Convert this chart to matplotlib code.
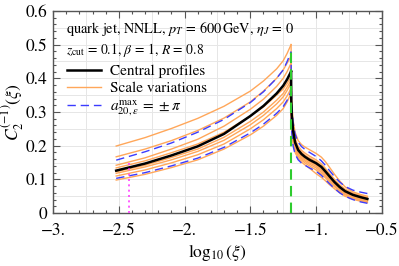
import matplotlib
matplotlib.use("Agg")
import matplotlib.pyplot as plt
import numpy as np
from matplotlib.ticker import MultipleLocator, FixedLocator, FixedFormatter
from matplotlib.lines import Line2D

plt.rcParams['font.family'] = ['STIXGeneral', 'DejaVu Serif']
plt.rcParams['mathtext.fontset'] = 'stix'

# ---- data ----
x_left = [-2.52, -2.3, -2.1, -1.9, -1.7, -1.5, -1.4, -1.3, -1.25, -1.22, -1.19]
central_left = [0.126, 0.147, 0.171, 0.198, 0.235, 0.288, 0.318, 0.355, 0.378, 0.397, 0.420]
blue_up_left = [0.157, 0.182, 0.208, 0.240, 0.278, 0.328, 0.360, 0.400, 0.425, 0.450, 0.479]
blue_lo_left = [0.103, 0.120, 0.140, 0.163, 0.195, 0.238, 0.264, 0.296, 0.316, 0.335, 0.362]
scale_left = [
    [0.199, 0.224, 0.251, 0.281, 0.317, 0.362, 0.392, 0.428, 0.452, 0.474, 0.500],
    [0.167, 0.190, 0.215, 0.245, 0.282, 0.330, 0.362, 0.400, 0.425, 0.445, 0.465],
    [0.142, 0.164, 0.190, 0.219, 0.258, 0.308, 0.338, 0.376, 0.400, 0.420, 0.445],
    [0.134, 0.155, 0.179, 0.205, 0.240, 0.288, 0.315, 0.350, 0.368, 0.385, 0.405],
    [0.123, 0.142, 0.165, 0.190, 0.225, 0.272, 0.300, 0.335, 0.355, 0.374, 0.395],
    [0.118, 0.137, 0.158, 0.183, 0.216, 0.262, 0.290, 0.324, 0.345, 0.364, 0.386],
    [0.110, 0.128, 0.149, 0.173, 0.205, 0.250, 0.277, 0.310, 0.330, 0.348, 0.370],
    [0.098, 0.115, 0.135, 0.158, 0.190, 0.232, 0.258, 0.290, 0.310, 0.330, 0.356],
]

x_right = [-1.19, -1.189, -1.185, -1.175, -1.16, -1.136, -1.11, -1.085, -1.05, -1.0,
           -0.96, -0.93, -0.9, -0.86, -0.82, -0.78, -0.72, -0.66, -0.61]
central_right = [0.420, 0.340, 0.290, 0.245, 0.210, 0.187, 0.175, 0.167, 0.158, 0.148,
                 0.137, 0.124, 0.110, 0.092, 0.077, 0.065, 0.054, 0.047, 0.042]
blue_up_right = [0.479, 0.380, 0.320, 0.270, 0.235, 0.210, 0.197, 0.189, 0.180, 0.168,
                 0.155, 0.142, 0.127, 0.108, 0.092, 0.079, 0.068, 0.062, 0.058]
blue_lo_right = [0.362, 0.280, 0.240, 0.200, 0.175, 0.158, 0.148, 0.142, 0.134, 0.124,
                 0.112, 0.100, 0.088, 0.073, 0.060, 0.050, 0.040, 0.033, 0.029]
scale_right = [
    [0.500, 0.390, 0.330, 0.275, 0.240, 0.215, 0.203, 0.196, 0.188, 0.177, 0.166, 0.153, 0.137, 0.115, 0.095, 0.078, 0.063, 0.055, 0.050],
    [0.465, 0.360, 0.305, 0.255, 0.222, 0.198, 0.186, 0.178, 0.169, 0.158, 0.146, 0.133, 0.118, 0.100, 0.084, 0.071, 0.059, 0.052, 0.047],
    [0.445, 0.350, 0.300, 0.250, 0.215, 0.192, 0.180, 0.172, 0.163, 0.153, 0.140, 0.128, 0.113, 0.095, 0.080, 0.068, 0.056, 0.049, 0.045],
    [0.405, 0.330, 0.280, 0.238, 0.205, 0.182, 0.170, 0.162, 0.153, 0.143, 0.130, 0.118, 0.105, 0.088, 0.073, 0.062, 0.051, 0.044, 0.040],
    [0.395, 0.320, 0.275, 0.232, 0.200, 0.178, 0.166, 0.158, 0.149, 0.139, 0.126, 0.114, 0.101, 0.085, 0.070, 0.059, 0.048, 0.041, 0.037],
    [0.386, 0.310, 0.265, 0.225, 0.195, 0.174, 0.162, 0.154, 0.145, 0.134, 0.121, 0.110, 0.097, 0.082, 0.068, 0.057, 0.046, 0.039, 0.035],
    [0.370, 0.300, 0.255, 0.215, 0.188, 0.168, 0.157, 0.149, 0.140, 0.128, 0.116, 0.105, 0.093, 0.078, 0.065, 0.054, 0.044, 0.037, 0.033],
    [0.356, 0.290, 0.245, 0.207, 0.180, 0.162, 0.151, 0.143, 0.133, 0.117, 0.106, 0.096, 0.085, 0.072, 0.060, 0.050, 0.041, 0.035, 0.031],
]

green_x = [-1.19, -1.19]
green_y = [0.0, 0.485]
magenta_x = [-2.42, -2.42]
magenta_y = [0.0, 0.15]

xticks = [-3.0, -2.5, -2.0, -1.5, -1.0, -0.5]
xticklabels = ["\u22123.", "\u22122.5", "\u22122.", "\u22121.5", "\u22121.", "\u22120.5"]
yticks = [0.0, 0.1, 0.2, 0.3, 0.4, 0.5, 0.6]
yticklabels = ["0", "0.1", "0.2", "0.3", "0.4", "0.5", "0.6"]

# ---- styles ----
ORANGE = '#FFA75A'
BLUE = '#3B3BFF'
GREEN = '#2ECC2E'
MAGENTA = '#FF40FF'
FRAME = '#555555'

fig = plt.figure(figsize=(3.99, 2.66), dpi=100)
ax = fig.add_axes([0.133, 0.199, 0.824, 0.760])
ax.set_xlim(-3.0, -0.5)
ax.set_ylim(0.0, 0.6)

# grid
for gx in np.arange(-2.75, -0.5, 0.25):
    ax.axvline(gx, color='#e6e6e6', lw=0.7, zorder=0)
for gy in np.arange(0.05, 0.6, 0.05):
    ax.axhline(gy, color='#e6e6e6', lw=0.7, zorder=0)

for s in scale_left:
    ax.plot(x_left, s, color=ORANGE, lw=1.0, zorder=2)
for s in scale_right:
    ax.plot(x_right, s, color=ORANGE, lw=1.0, zorder=2)

dash = (0, (6, 3.5))
ax.plot(x_left, blue_up_left, color=BLUE, lw=1.0, linestyle=dash, zorder=3)
ax.plot(x_left, blue_lo_left, color=BLUE, lw=1.0, linestyle=dash, zorder=3)
ax.plot(x_right, blue_up_right, color=BLUE, lw=1.0, linestyle=dash, zorder=3)
ax.plot(x_right, blue_lo_right, color=BLUE, lw=1.0, linestyle=dash, zorder=3)

ax.plot(x_left, central_left, color='black', lw=1.8, zorder=4)
ax.plot(x_right, central_right, color='black', lw=1.8, zorder=4)

ax.plot(green_x, green_y, color=GREEN, lw=1.5, linestyle=(0, (5, 3)), zorder=5)
ax.plot(magenta_x, magenta_y, color=MAGENTA, lw=1.2, linestyle=(0, (1.2, 2)), zorder=5)

# ticks
ax.xaxis.set_major_locator(FixedLocator(xticks))
ax.xaxis.set_major_formatter(FixedFormatter(xticklabels))
ax.yaxis.set_major_locator(FixedLocator(yticks))
ax.yaxis.set_major_formatter(FixedFormatter(yticklabels))
ax.xaxis.set_minor_locator(MultipleLocator(0.1))
ax.yaxis.set_minor_locator(MultipleLocator(0.02))
ax.tick_params(which='both', direction='in', top=True, right=True, color=FRAME,
               labelsize=12.5, width=0.8)
ax.tick_params(which='major', length=5)
ax.tick_params(which='minor', length=2.5)
ax.tick_params(axis='x', pad=7)
ax.tick_params(axis='y', pad=4)
for sp in ax.spines.values():
    sp.set_color(FRAME)
    sp.set_linewidth(1.0)

ax.set_xlabel(r"$\log_{10}(\xi)$", fontsize=12.5, labelpad=2)
ax.set_ylabel(r"$C_2^{(-1)}(\xi)$", fontsize=12.5, labelpad=0)

ax.text(0.04, 0.91, r"quark jet, NNLL, $p_T\,=\,600\,\mathrm{GeV}$, $\eta_J\,=\,0$",
        transform=ax.transAxes, fontsize=10.3, va='center', ha='left')
ax.text(0.04, 0.805, r"$z_{\mathrm{cut}}\,=\,0.1$, $\beta\,=\,1$, $R\,=\,0.8$",
        transform=ax.transAxes, fontsize=9.8, va='center', ha='left')

handles = [Line2D([], [], color='black', lw=1.8),
           Line2D([], [], color=ORANGE, lw=1.0),
           Line2D([], [], color=BLUE, lw=1.0, linestyle=dash)]
labels = ["Central profiles", "Scale variations", r"$a^{\max}_{20,\varepsilon}\,=\,\pm\pi$"]
ax.legend(handles, labels, loc='upper left', bbox_to_anchor=(0.025, 0.765),
          frameon=False, fontsize=11, handlelength=2.2, handletextpad=0.6,
          labelspacing=0.22, borderaxespad=0.0)

fig.savefig("out.png", dpi=100)
